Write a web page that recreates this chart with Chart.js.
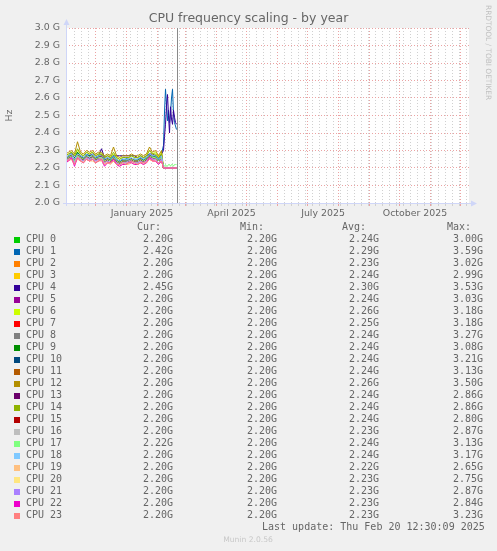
<!DOCTYPE html>
<html>
<head>
<meta charset="utf-8">
<title>CPU frequency scaling - by year</title>
<script src="https://cdn.jsdelivr.net/npm/chart.js@4.4.1/dist/chart.umd.min.js"></script>
<style>
  html, body { margin: 0; padding: 0; background: #f0f0f0; }
  canvas { display: block; }
</style>
</head>
<body>
<canvas id="cpuChart" width="497" height="551"></canvas>
<script>
// days counted from 1 January 2025 (day 0); "now" is Thu Feb 20 2025
const days = [
  -61, -58, -55, -52, -49, -46, -43, -40, -37, -34, -31,
  -28, -25, -22, -19, -16, -13, -10, -7, -4, -1, 2,
  5, 8, 11, 14, 17, 20, 23, 26, 29, 32, 35,
  37, 38, 39, 40, 41, 42, 43, 44, 45, 46, 47, 48, 49, 50
];
const nowDay = 50;
const xMin = -60.5;
const xMax = 342.5;

const monthStarts = [-31, 0, 31, 59, 90, 120, 151, 181, 212, 243, 273, 304, 334];
const monthLabels = ["January 2025", "April 2025", "July 2025", "October 2025"];
const monthLabelDays = [15.5, 105, 196.5, 288.5];

const cpuNames = [
  "CPU 0", "CPU 1", "CPU 2", "CPU 3", "CPU 4", "CPU 5", "CPU 6", "CPU 7",
  "CPU 8", "CPU 9", "CPU 10", "CPU 11", "CPU 12", "CPU 13", "CPU 14", "CPU 15",
  "CPU 16", "CPU 17", "CPU 18", "CPU 19", "CPU 20", "CPU 21", "CPU 22", "CPU 23"
];
const cpuColors = [
  "#00CC00", "#0066B3", "#FF8000", "#FFCC00", "#330099", "#990099", "#CCFF00", "#FF0000",
  "#808080", "#008F00", "#00487D", "#B35A00", "#B38F00", "#6B006B", "#8FB300", "#B30000",
  "#BEBEBE", "#80FF80", "#80C9FF", "#FFC080", "#FFE680", "#AA80FF", "#EE00CC", "#FF8080"
];

// GHz
const cpu0 = [2.26,2.25,2.28,2.24,2.27,2.27,2.24,2.28,2.25,2.26,2.26,
  2.25,2.26,2.25,2.24,2.25,2.27,2.23,2.24,2.25,2.23,2.25,
  2.24,2.25,2.23,2.24,2.25,2.26,2.26,2.27,2.25,2.25,2.27,
  2.2,2.2,2.2,2.2,2.2,2.2,2.2,2.2,2.2,2.2,2.2,2.2,2.2,2.2];
const cpu1 = [2.27,2.26,2.29,2.25,2.29,2.27,2.26,2.28,2.27,2.28,2.26,
  2.27,2.28,2.25,2.26,2.25,2.27,2.25,2.24,2.25,2.25,2.26,
  2.25,2.25,2.25,2.26,2.25,2.26,2.28,2.27,2.27,2.25,2.28,
  2.33,2.52,2.65,2.56,2.47,2.53,2.46,2.51,2.60,2.65,2.51,2.46,2.44,2.42];
const cpu2 = [2.24,2.25,2.26,2.23,2.27,2.25,2.24,2.26,2.25,2.26,2.24,
  2.25,2.25,2.23,2.24,2.23,2.25,2.23,2.22,2.23,2.23,2.23,
  2.24,2.23,2.23,2.24,2.23,2.24,2.26,2.25,2.25,2.23,2.25,
  2.2,2.2,2.2,2.2,2.2,2.2,2.2,2.2,2.2,2.2,2.2,2.2,2.2,2.2];
const cpu3 = [2.25,2.27,2.27,2.24,2.28,2.26,2.25,2.27,2.26,2.27,2.25,
  2.26,2.27,2.24,2.25,2.24,2.26,2.24,2.23,2.24,2.24,2.25,
  2.25,2.24,2.24,2.25,2.24,2.25,2.28,2.26,2.27,2.24,2.27,
  2.2,2.2,2.2,2.2,2.2,2.2,2.2,2.2,2.2,2.2,2.2,2.2,2.2,2.2];
const cpu4 = [2.26,2.27,2.28,2.26,2.28,2.27,2.26,2.27,2.27,2.28,2.26,
  2.27,2.31,2.26,2.27,2.26,2.27,2.27,2.27,2.27,2.27,2.27,
  2.27,2.27,2.26,2.27,2.26,2.27,2.28,2.28,2.27,2.26,2.28,
  2.30,2.38,2.45,2.55,2.62,2.50,2.40,2.55,2.48,2.45,2.53,2.49,2.46,2.45];
const cpu5 = [2.25,2.26,2.27,2.25,2.27,2.26,2.25,2.27,2.25,2.27,2.25,
  2.26,2.28,2.24,2.25,2.25,2.26,2.24,2.23,2.24,2.24,2.24,
  2.25,2.24,2.24,2.25,2.24,2.25,2.27,2.26,2.26,2.24,2.26,
  2.2,2.2,2.2,2.2,2.2,2.2,2.2,2.2,2.2,2.2,2.2,2.2,2.2,2.2];
const cpu6 = [2.27,2.28,2.29,2.27,2.30,2.28,2.27,2.29,2.28,2.29,2.27,
  2.28,2.28,2.26,2.27,2.26,2.28,2.26,2.25,2.26,2.26,2.26,
  2.27,2.26,2.26,2.27,2.26,2.27,2.30,2.28,2.29,2.26,2.29,
  2.2,2.2,2.2,2.2,2.2,2.2,2.2,2.2,2.2,2.2,2.2,2.2,2.2,2.2];
const cpu7 = [2.24,2.26,2.27,2.22,2.28,2.26,2.25,2.27,2.26,2.27,2.25,
  2.26,2.26,2.23,2.25,2.24,2.26,2.24,2.22,2.24,2.24,2.24,
  2.25,2.24,2.24,2.25,2.24,2.25,2.27,2.26,2.26,2.24,2.26,
  2.2,2.2,2.2,2.2,2.2,2.2,2.2,2.2,2.2,2.2,2.2,2.2,2.2,2.2];
const cpu8 = [2.26,2.26,2.28,2.25,2.28,2.27,2.25,2.27,2.26,2.28,2.25,
  2.26,2.27,2.24,2.26,2.24,2.26,2.25,2.23,2.25,2.24,2.24,
  2.25,2.25,2.24,2.25,2.24,2.25,2.27,2.27,2.26,2.24,2.26,
  2.2,2.2,2.2,2.2,2.2,2.2,2.2,2.2,2.2,2.2,2.2,2.2,2.2,2.2];
const cpu9 = [2.25,2.27,2.27,2.25,2.29,2.26,2.26,2.27,2.27,2.27,2.25,
  2.27,2.27,2.24,2.25,2.25,2.26,2.24,2.24,2.24,2.25,2.24,
  2.25,2.24,2.25,2.25,2.24,2.26,2.27,2.26,2.27,2.24,2.26,
  2.2,2.2,2.2,2.2,2.2,2.2,2.2,2.2,2.2,2.2,2.2,2.2,2.2,2.2];
const cpu10 = [2.26,2.26,2.27,2.25,2.28,2.26,2.25,2.28,2.26,2.27,2.26,
  2.26,2.27,2.25,2.25,2.24,2.27,2.24,2.23,2.25,2.24,2.25,
  2.25,2.24,2.24,2.26,2.24,2.25,2.28,2.26,2.26,2.25,2.27,
  2.2,2.2,2.2,2.2,2.2,2.2,2.2,2.2,2.2,2.2,2.2,2.2,2.2,2.2];
const cpu11 = [2.25,2.26,2.28,2.24,2.28,2.26,2.25,2.27,2.26,2.27,2.25,
  2.26,2.27,2.24,2.25,2.24,2.26,2.24,2.23,2.24,2.24,2.24,
  2.25,2.24,2.24,2.25,2.24,2.25,2.27,2.26,2.26,2.24,2.26,
  2.2,2.2,2.2,2.2,2.2,2.2,2.2,2.2,2.2,2.2,2.2,2.2,2.2,2.2];
const cpu12 = [2.28,2.29,2.30,2.28,2.35,2.29,2.28,2.30,2.29,2.30,2.28,
  2.29,2.29,2.27,2.28,2.27,2.32,2.27,2.26,2.27,2.27,2.27,
  2.28,2.27,2.27,2.28,2.27,2.28,2.32,2.29,2.30,2.27,2.30,
  2.2,2.2,2.2,2.2,2.2,2.2,2.2,2.2,2.2,2.2,2.2,2.2,2.2,2.2];
const cpu13 = [2.25,2.26,2.27,2.25,2.27,2.26,2.25,2.27,2.26,2.26,2.25,
  2.26,2.27,2.24,2.25,2.24,2.26,2.24,2.23,2.24,2.24,2.24,
  2.24,2.24,2.24,2.25,2.24,2.25,2.27,2.26,2.26,2.24,2.26,
  2.2,2.2,2.2,2.2,2.2,2.2,2.2,2.2,2.2,2.2,2.2,2.2,2.2,2.2];
const cpu14 = [2.27,2.28,2.29,2.27,2.31,2.28,2.27,2.29,2.28,2.29,2.27,
  2.28,2.28,2.26,2.27,2.26,2.29,2.26,2.25,2.26,2.26,2.26,
  2.27,2.26,2.26,2.27,2.26,2.27,2.30,2.28,2.28,2.26,2.28,
  2.2,2.2,2.2,2.2,2.2,2.2,2.2,2.2,2.2,2.2,2.2,2.2,2.2,2.2];
const cpu15 = [2.25,2.25,2.27,2.24,2.27,2.26,2.24,2.26,2.26,2.27,2.25,
  2.25,2.27,2.24,2.25,2.24,2.26,2.24,2.23,2.24,2.23,2.24,
  2.25,2.24,2.24,2.25,2.23,2.25,2.27,2.25,2.26,2.24,2.26,
  2.2,2.2,2.2,2.2,2.2,2.2,2.2,2.2,2.2,2.2,2.2,2.2,2.2,2.2];
const cpu16 = [2.24,2.25,2.26,2.23,2.27,2.25,2.24,2.26,2.25,2.26,2.24,
  2.25,2.26,2.23,2.24,2.23,2.25,2.23,2.22,2.23,2.23,2.23,
  2.24,2.23,2.23,2.24,2.23,2.24,2.26,2.25,2.25,2.23,2.25,
  2.2,2.2,2.2,2.2,2.2,2.2,2.2,2.2,2.2,2.2,2.2,2.2,2.2,2.2];
const cpu17 = [2.25,2.26,2.27,2.24,2.27,2.26,2.25,2.27,2.26,2.27,2.25,
  2.26,2.26,2.24,2.25,2.24,2.26,2.24,2.23,2.24,2.24,2.24,
  2.25,2.24,2.24,2.25,2.24,2.25,2.27,2.26,2.26,2.24,2.26,
  2.21,2.21,2.22,2.21,2.21,2.22,2.22,2.21,2.22,2.22,2.21,2.22,2.22,2.22];
const cpu18 = [2.26,2.27,2.28,2.25,2.28,2.27,2.26,2.28,2.26,2.28,2.26,
  2.27,2.27,2.25,2.26,2.25,2.27,2.25,2.24,2.25,2.25,2.25,
  2.26,2.25,2.25,2.26,2.25,2.26,2.28,2.27,2.27,2.25,2.27,
  2.2,2.2,2.2,2.2,2.2,2.2,2.2,2.2,2.2,2.2,2.2,2.2,2.2,2.2];
const cpu19 = [2.23,2.24,2.25,2.22,2.25,2.24,2.23,2.25,2.24,2.24,2.23,
  2.24,2.24,2.22,2.23,2.22,2.24,2.22,2.21,2.22,2.22,2.22,
  2.23,2.22,2.22,2.23,2.22,2.23,2.25,2.24,2.24,2.22,2.24,
  2.2,2.2,2.2,2.2,2.2,2.2,2.2,2.2,2.2,2.2,2.2,2.2,2.2,2.2];
const cpu20 = [2.23,2.25,2.25,2.23,2.26,2.24,2.24,2.25,2.24,2.25,2.23,
  2.24,2.25,2.23,2.23,2.23,2.24,2.23,2.22,2.23,2.23,2.23,
  2.23,2.23,2.22,2.23,2.23,2.24,2.25,2.24,2.25,2.23,2.24,
  2.2,2.2,2.2,2.2,2.2,2.2,2.2,2.2,2.2,2.2,2.2,2.2,2.2,2.2];
const cpu21 = [2.24,2.25,2.26,2.23,2.26,2.25,2.24,2.26,2.25,2.25,2.24,
  2.25,2.25,2.23,2.24,2.23,2.25,2.23,2.22,2.23,2.23,2.24,
  2.24,2.23,2.23,2.24,2.23,2.24,2.26,2.25,2.25,2.23,2.25,
  2.2,2.2,2.2,2.2,2.2,2.2,2.2,2.2,2.2,2.2,2.2,2.2,2.2,2.2];
const cpu22 = [2.23,2.24,2.26,2.21,2.26,2.24,2.23,2.25,2.24,2.25,2.23,
  2.24,2.25,2.21,2.23,2.23,2.25,2.22,2.21,2.22,2.22,2.23,
  2.23,2.22,2.22,2.23,2.22,2.23,2.26,2.24,2.24,2.22,2.24,
  2.2,2.2,2.2,2.2,2.2,2.2,2.2,2.2,2.2,2.2,2.2,2.2,2.2,2.2];
const cpu23 = [2.23,2.25,2.25,2.22,2.26,2.24,2.23,2.25,2.24,2.25,2.23,
  2.24,2.25,2.22,2.23,2.23,2.24,2.22,2.22,2.23,2.22,2.23,
  2.24,2.23,2.22,2.23,2.23,2.23,2.25,2.24,2.24,2.23,2.24,
  2.2,2.2,2.2,2.2,2.2,2.2,2.2,2.2,2.2,2.2,2.2,2.2,2.2,2.2];

const series = [cpu0, cpu1, cpu2, cpu3, cpu4, cpu5, cpu6, cpu7, cpu8, cpu9, cpu10, cpu11,
  cpu12, cpu13, cpu14, cpu15, cpu16, cpu17, cpu18, cpu19, cpu20, cpu21, cpu22, cpu23];

// legend table (GHz)
const curVals = [2.20,2.42,2.20,2.20,2.45,2.20,2.20,2.20,2.20,2.20,2.20,2.20,
  2.20,2.20,2.20,2.20,2.20,2.22,2.20,2.20,2.20,2.20,2.20,2.20];
const minVals = [2.20,2.20,2.20,2.20,2.20,2.20,2.20,2.20,2.20,2.20,2.20,2.20,
  2.20,2.20,2.20,2.20,2.20,2.20,2.20,2.20,2.20,2.20,2.20,2.20];
const avgVals = [2.24,2.29,2.23,2.24,2.30,2.24,2.26,2.25,2.24,2.24,2.24,2.24,
  2.26,2.24,2.24,2.24,2.23,2.24,2.24,2.22,2.23,2.23,2.23,2.23];
const maxVals = [3.00,3.59,3.02,2.99,3.53,3.03,3.18,3.18,3.27,3.08,3.21,3.13,
  3.50,2.86,2.86,2.80,2.87,3.13,3.17,2.65,2.75,2.87,2.84,3.23];

const textColor = "#666666";
const majorGrid = "#eba3a3";
const minorGrid = "#d0d0d0";
const axisColor = "#cfd6f8";

// weekly minor grid (Sundays) plus month starts
const gridDays = monthStarts.slice();
for (let d = -52; d < xMax; d += 7) {
  if (!monthStarts.includes(d)) gridDays.push(d);
}
const isMonth = (c) => c.tick && monthStarts.includes(c.tick.value);

Chart.defaults.font.family = "'DejaVu Sans', sans-serif";

const muninPlugin = {
  id: "munin",
  beforeDraw(chart) {
    const { ctx, chartArea: a } = chart;
    ctx.save();
    ctx.fillStyle = "#f0f0f0";
    ctx.fillRect(0, 0, chart.width, chart.height);
    ctx.fillStyle = "#ffffff";
    ctx.fillRect(a.left, a.top, a.right - a.left, a.bottom - a.top);
    ctx.restore();
  },
  afterDatasetsDraw(chart) {
    const { ctx, chartArea: a } = chart;
    const nx = Math.round(chart.scales.x.getPixelForValue(nowDay)) + 0.5;
    ctx.save();
    ctx.strokeStyle = "#8a8a8a";
    ctx.lineWidth = 1;
    ctx.beginPath();
    ctx.moveTo(nx, a.top);
    ctx.lineTo(nx, a.bottom);
    ctx.stroke();

    // axes with arrows
    const lx = a.left + 0.5;
    const by = a.bottom + 0.5;
    ctx.strokeStyle = axisColor;
    ctx.fillStyle = axisColor;
    ctx.beginPath();
    ctx.moveTo(lx, a.bottom + 3);
    ctx.lineTo(lx, a.top - 3);
    ctx.moveTo(a.left - 3, by);
    ctx.lineTo(a.right + 2, by);
    ctx.stroke();
    ctx.beginPath();
    ctx.moveTo(lx - 3, a.top - 3);
    ctx.lineTo(lx + 3, a.top - 3);
    ctx.lineTo(lx, a.top - 9);
    ctx.closePath();
    ctx.fill();
    ctx.beginPath();
    ctx.moveTo(a.right + 2, by - 3);
    ctx.lineTo(a.right + 2, by + 3);
    ctx.lineTo(a.right + 8, by);
    ctx.closePath();
    ctx.fill();
    ctx.restore();
  },
  afterDraw(chart) {
    const { ctx } = chart;
    ctx.save();
    ctx.fillStyle = textColor;
    ctx.textBaseline = "middle";
    ctx.textAlign = "center";
    ctx.font = "12.5px 'DejaVu Sans'";
    ctx.fillText("CPU frequency scaling - by year", chart.width / 2, 19);

    ctx.fillStyle = "#c0c0c0";
    ctx.font = "7.4px 'DejaVu Sans'";
    ctx.textAlign = "left";
    ctx.save();
    ctx.translate(487.5, 5);
    ctx.rotate(Math.PI / 2);
    ctx.fillText("RRDTOOL / TOBI OETIKER", 0, 0);
    ctx.restore();

    // legend table
    ctx.font = "10px 'DejaVu Sans Mono'";
    ctx.fillStyle = textColor;
    const headX = [137, 240, 342, 447];
    const valX = [143, 247, 349, 453];
    ["Cur:", "Min:", "Avg:", "Max:"].forEach((h, k) => ctx.fillText(h, headX[k], 227.5));
    const fmt = (v) => v.toFixed(2) + "G";
    cpuNames.forEach((name, i) => {
      const y = 239.7 + i * 12;
      ctx.fillStyle = cpuColors[i];
      ctx.fillRect(14, Math.round(y) - 3, 6, 6);
      ctx.fillStyle = textColor;
      ctx.fillText(name, 26, y);
      [curVals, minVals, avgVals, maxVals].forEach((col, k) => ctx.fillText(fmt(col[i]), valX[k], y));
    });
    ctx.fillText("Last update: Thu Feb 20 12:30:09 2025", 262, 527);

    ctx.fillStyle = "#c8c8c8";
    ctx.font = "7.6px 'DejaVu Sans'";
    ctx.textAlign = "center";
    ctx.fillText("Munin 2.0.56", 248, 540);
    ctx.restore();
  }
};

new Chart(document.getElementById("cpuChart"), {
  type: "line",
  data: {
    datasets: series.map((vals, i) => ({
      label: cpuNames[i],
      data: vals.map((v, j) => ({ x: days[j], y: v })),
      borderColor: cpuColors[i],
      backgroundColor: cpuColors[i],
      borderWidth: 1,
      pointRadius: 0,
      tension: 0,
      order: cpuNames.length - 1 - i,
    })),
  },
  options: {
    responsive: false,
    animation: false,
    events: [],
    layout: { padding: { left: 0, top: 28, right: 28, bottom: 328 } },
    plugins: {
      legend: { display: false },
      tooltip: { enabled: false },
    },
    scales: {
      x: {
        type: "linear",
        position: "bottom",
        min: xMin,
        max: xMax,
        weight: 0,
        afterBuildTicks: (s) => { s.ticks = gridDays.map((v) => ({ value: v })); },
        afterFit: (s) => { s.height = 0; },
        ticks: { display: false, autoSkip: false },
        grid: {
          color: (c) => (isMonth(c) ? majorGrid : minorGrid),
          tickColor: (c) => (isMonth(c) ? majorGrid : minorGrid),
          tickLength: 3,
        },
        border: { display: false, dash: [1, 2] },
      },
      xl: {
        type: "linear",
        position: "bottom",
        min: xMin,
        max: xMax,
        weight: 1,
        afterBuildTicks: (s) => { s.ticks = monthLabelDays.map((v) => ({ value: v })); },
        afterFit: (s) => { s.height = 20; },
        ticks: {
          autoSkip: false,
          maxRotation: 0,
          padding: 5,
          color: textColor,
          font: { size: 9.4 },
          callback: (v, i) => monthLabels[i],
        },
        grid: { display: false, drawTicks: false },
        border: { display: false },
      },
      y: {
        min: 2.0,
        max: 3.0,
        afterFit: (s) => { s.width = 66; },
        ticks: {
          stepSize: 0.1,
          padding: 6,
          color: textColor,
          font: { size: 9.4 },
          callback: (v) => v.toFixed(1) + " G",
        },
        grid: { color: majorGrid, drawTicks: false },
        border: { display: false, dash: [1, 2] },
        title: {
          display: true,
          text: "Hz",
          color: textColor,
          font: { size: 9.4 },
          padding: { top: 4, bottom: 0 },
        },
      },
    },
  },
  plugins: [muninPlugin],
});
</script>
</body>
</html>
